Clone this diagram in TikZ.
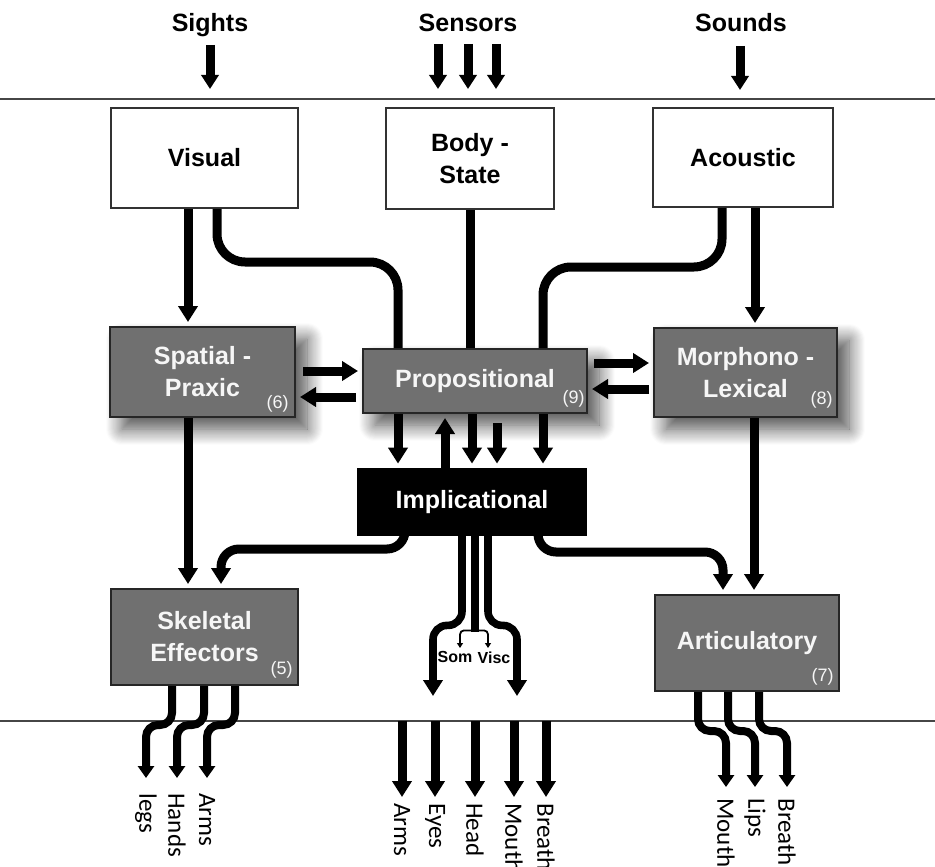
\documentclass[tikz,border=0pt]{standalone}
\usepackage{fontspec}
\setmainfont{Liberation Sans}
\newfontfamily\bodypartfont{Carlito}
\usepackage{tikz}
\usetikzlibrary{arrows.meta,calc,positioning,shadows.blur}
\definecolor{boxgrey}{RGB}{112,112,112}
\definecolor{edgegrey}{RGB}{38,38,38}
\definecolor{framegrey}{RGB}{50,50,50}
\definecolor{rulegrey}{RGB}{70,70,70}
\definecolor{labelwhite}{RGB}{246,246,246}
\newcommand{\diagfont}{\fontsize{12.5}{16}\selectfont\bfseries}
\newcommand{\idxfont}{\fontsize{9}{10}\selectfont}
\tikzset{
  inbox/.style={draw=framegrey,line width=0.8pt,fill=white,
    align=center,inner sep=2pt,font=\diagfont},
  subsys/.style={draw=edgegrey,line width=1pt,fill=boxgrey,text=labelwhite,
    align=center,inner sep=2pt,font=\diagfont},
  softshadow/.style={blur shadow={shadow xshift=6pt,shadow yshift=-6pt,
    shadow blur radius=8pt,shadow blur steps=16,shadow opacity=70}},
  central/.style={fill=black,text=white,align=center,font=\diagfont},
  numtag/.style={font=\idxfont,text=labelwhite,inner sep=0pt,anchor=south east},
  heading/.style={font=\diagfont,anchor=base},
  smalltag/.style={font=\fontsize{8}{9}\selectfont\bfseries,inner sep=0pt},
  limbtext/.style={font=\fontsize{12.5}{14}\bodypartfont,rotate=-90,
    anchor=west,inner sep=0pt},
  sepline/.style={line width=1pt,draw=rulegrey},
  flow/.style={-{Triangle[length=8pt,width=9.5pt]},line width=4.5pt,
    rounded corners=14pt,shorten >=2pt},
  route/.style={line width=4.5pt,rounded corners=14pt},
  outflow/.style={-{Triangle[length=8pt,width=9.5pt]},line width=4.5pt},
  feed/.style={-{Triangle[length=7pt,width=8.5pt]},line width=4.5pt},
  limb/.style={-{Triangle[length=6pt,width=8pt]},line width=4pt,
    rounded corners=6pt},
  splitflow/.style={-{Triangle[length=2.5pt,width=3pt]},line width=0.9pt,
    rounded corners=2pt}
}

\begin{document}
\begin{tikzpicture}[x=0.5pt,y=-0.5pt]
  \useasboundingbox (0,0) rectangle (935,866);
  \coordinate (topline) at (0,99);
  \coordinate (lowline) at (0,721);
  \draw[sepline] (topline) -- (935,99);
  \draw[sepline] (lowline) -- (935,721);

  % inputs
  \node[heading] (sights) at (210,32) {Sights};
  \node[heading] (sensors) at (468,32) {Sensors};
  \node[heading] (sounds) at (741,32) {Sounds};
  \draw[feed] ($(sights.base)+(0,13)$) -- ($(sights.base |- topline)+(0,-10)$);
  \draw[feed] ($(sensors.base)+(-30,12)$) -- ($(sensors.base |- topline)+(-30,-10)$);
  \draw[feed] ($(sensors.base)+(0,12)$) -- ($(sensors.base |- topline)+(0,-10)$);
  \draw[feed] ($(sensors.base)+(28,12)$) -- ($(sensors.base |- topline)+(28,-10)$);
  \draw[feed] ($(sounds.base)+(-1,14)$) -- ($(sounds.base |- topline)+(-1,-9)$);

  % subsystems
  \node[inbox,minimum width=93.5pt,minimum height=50pt] (visual) at (204.5,158) {Visual};
  \node[inbox,minimum width=84pt,minimum height=50.5pt] (body) at (470,158.5) {Body -\\State};
  \node[inbox,minimum width=90pt,minimum height=49.5pt] (acoustic) at (743,157.5) {Acoustic};
  \node[subsys,softshadow,minimum width=92.5pt,minimum height=45pt] (spatial) at (202.5,372) {Spatial -\\Praxic};
  \node[subsys,softshadow,minimum width=112pt,minimum height=32pt] (prop) at (475,381) {Propositional};
  \node[subsys,softshadow,minimum width=91.5pt,minimum height=44.5pt] (morph) at (745.5,372.5) {Morphono -\\Lexical};
  \node[central,minimum width=115pt,minimum height=34pt] (impl) at (472,502) {Implicational};
  \node[subsys,minimum width=93.5pt,minimum height=48pt] (skel) at (204.5,637) {Skeletal\\Effectors};
  \node[subsys,minimum width=92pt,minimum height=48pt] (artic) at (747,643) {Articulatory};
  \node[numtag] (spatialno) at ($(spatial.south east)+(-7,-5)$) {(6)};
  \node[numtag] (propno) at ($(prop.south east)+(-3,-6)$) {(9)};
  \node[numtag] (morphno) at ($(morph.south east)+(-5,-9)$) {(8)};
  \node[numtag] (skelno) at ($(skel.south east)+(-6,-7)$) {(5)};
  \node[numtag] (articno) at ($(artic.south east)+(-6,-6)$) {(7)};

  % sensory routes
  \draw[flow] ($(visual.south)+(-16.5,0)$) -- ($(spatial.north)+(-14.5,0)$);
  \draw[route] ($(visual.south)+(12.5,0)$) |- ($(prop.north)+(-77,-86)$) -- ($(prop.north)+(-77,0)$);
  \draw[route] (body.south) -- (body.south |- prop.north);
  \draw[route] ($(acoustic.south)+(-21,0)$) |- ($(prop.north)+(68,-81)$) -- ($(prop.north)+(68,0)$);
  \draw[flow] ($(acoustic.south)+(12,0)$) -- ($(morph.north)+(9.5,0)$);

  % exchanges with the propositional level
  \draw[flow,shorten <=3.5pt] ($(spatial.east)+(0,-1)$) -- ($(prop.west)+(0,-10)$);
  \draw[flow,shorten <=3pt] ($(prop.west)+(0,16)$) -- ($(spatial.east)+(0,25)$);
  \draw[flow,shorten <=3pt] ($(prop.east)+(0,-18)$) -- ($(morph.west)+(0,-9.5)$);
  \draw[flow,shorten <=2pt] ($(morph.west)+(0,16.5)$) -- ($(prop.east)+(0,8)$);
  \draw[flow] ($(prop.south)+(-77,0)$) -- ($(impl.north)+(-74,0)$);
  \draw[flow] ($(impl.north)+(-27,0)$) -- ($(prop.south)+(-30,0)$);
  \draw[flow] ($(prop.south)+(-3,0)$) -- (impl.north);
  \draw[flow] ($(prop.south)+(22,9)$) -- ($(impl.north)+(25,0)$);
  \draw[flow] ($(prop.south)+(68,0)$) -- ($(impl.north)+(71,0)$);

  % effector routes
  \draw[flow] ($(spatial.south)+(-14.5,0)$) -- ($(skel.north)+(-16.5,0)$);
  \draw[flow] ($(morph.south)+(8.5,0)$) -- ($(artic.north)+(7,0)$);
  \draw[flow,rounded corners=9pt] ($(impl.south)+(-67,-12)$) |- ($(skel.north)+(16.5,-39)$) -- ($(skel.north)+(16.5,0)$);
  \draw[flow,rounded corners=9pt] ($(impl.south)+(66,-12)$) |- ($(artic.north)+(-24,-42)$) -- ($(artic.north)+(-24,0)$);

  % bodily outputs of the implicational level
  \coordinate (implleft) at (433,700);
  \coordinate (implright) at (517,700);
  \coordinate (somtip) at (460,648);
  \coordinate (visctip) at (488,648);
  \draw[flow,line width=3.8pt,rounded corners=7pt] ($(impl.south)+(-10,-5)$) -- ++(0,94) -| (implleft);
  \draw[flow,line width=3.8pt,rounded corners=7pt] ($(impl.south)+(16,-5)$) -- ++(0,94) -| (implright);
  \draw[route,line width=3.8pt] ($(impl.south)+(3,-5)$) -- ++(0,101);
  \draw[splitflow] ($(impl.south)+(3,94)$) -| (somtip);
  \draw[splitflow] ($(impl.south)+(3,94)$) -| (visctip);
  \node[smalltag,below=1.5pt of somtip,xshift=-2.5pt] (som) {Som};
  \node[smalltag,below=1.5pt of visctip,xshift=3pt] (visc) {Visc};

  \coordinate (armsend) at (402,797);
  \coordinate (eyesend) at (435,797);
  \coordinate (headend) at (475,797);
  \coordinate (mouthend) at (514,797);
  \coordinate (breathend) at (546,797);
  \draw[outflow] (armsend |- lowline) -- (armsend);
  \draw[outflow] (eyesend |- lowline) -- (eyesend);
  \draw[outflow] (headend |- lowline) -- (headend);
  \draw[outflow] (mouthend |- lowline) -- (mouthend);
  \draw[outflow] (breathend |- lowline) -- (breathend);
  \node[limbtext] (arms) at ($(armsend)+(0,6)$) {Arms};
  \node[limbtext] (eyes) at ($(eyesend)+(0,6)$) {Eyes};
  \node[limbtext] (head) at ($(headend)+(0,6)$) {Head};
  \node[limbtext] (mouth) at ($(mouthend)+(0,6)$) {Mouth};
  \node[limbtext] (breath) at ($(breathend)+(0,6)$) {Breath};

  % skeletal outputs
  \coordinate (legsend) at (146,778);
  \coordinate (handsend) at (177,778);
  \coordinate (reachend) at (207,778);
  \draw[limb] ($(skel.south)+(-32.5,0)$) -- ++(0,39) -| (legsend);
  \draw[limb] ($(skel.south)+(-0.5,0)$) -- ++(0,39) -| (handsend);
  \draw[limb] ($(skel.south)+(30.5,0)$) -- ++(0,39) -| (reachend);
  \node[limbtext] (legs) at ($(legsend)+(0,15)$) {legs};
  \node[limbtext] (hands) at ($(handsend)+(0,15)$) {Hands};
  \node[limbtext] (reach) at ($(reachend)+(0,15)$) {Arms};

  % articulatory outputs
  \coordinate (lipsmouthend) at (726,787);
  \coordinate (lipsend) at (755,787);
  \coordinate (voiceend) at (787,787);
  \draw[limb] ($(artic.south)+(-49,0)$) -- ++(0,39) -| (lipsmouthend);
  \draw[limb] ($(artic.south)+(-19,0)$) -- ++(0,39) -| (lipsend);
  \draw[limb] ($(artic.south)+(12,0)$) -- ++(0,39) -| (voiceend);
  \node[limbtext] (spoken) at ($(lipsmouthend)+(0,11)$) {Mouth};
  \node[limbtext] (lips) at ($(lipsend)+(0,11)$) {Lips};
  \node[limbtext] (voice) at ($(voiceend)+(0,11)$) {Breath};
\end{tikzpicture}
\end{document}
